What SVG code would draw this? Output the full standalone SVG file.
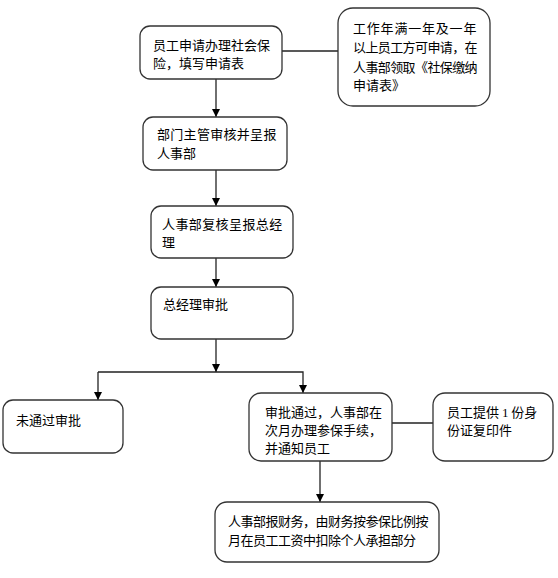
<svg xmlns="http://www.w3.org/2000/svg" width="558" height="578" viewBox="0 0 558 578">
<style>
.box{fill:#fff;stroke:#333;stroke-width:1.3}
.t{font-family:"Noto Sans CJK SC","Liberation Sans",sans-serif;font-size:13px;fill:#000}
.ln{fill:none;stroke:#222;stroke-width:1.3}
</style>
<defs>
<marker id="ah" viewBox="0 0 10 10" refX="10" refY="5" markerWidth="8" markerHeight="8" markerUnits="userSpaceOnUse" orient="auto">
<path d="M0,0 L10,5 L0,10 z" fill="#000"/>
</marker>
</defs>
<rect width="558" height="578" fill="#fff"/>
<g id="connectors">
<line class="ln" x1="282" y1="51" x2="338" y2="51"/>
<line class="ln" x1="216" y1="79" x2="216" y2="117" marker-end="url(#ah)"/>
<line class="ln" x1="216" y1="170" x2="216" y2="206" marker-end="url(#ah)"/>
<line class="ln" x1="216" y1="258" x2="216" y2="287" marker-end="url(#ah)"/>
<line class="ln" x1="216" y1="339" x2="216" y2="372" marker-end="url(#ah)"/>
<polyline class="ln" points="98,372 303,372 303,393" marker-end="url(#ah)"/>
<line class="ln" x1="98" y1="372" x2="98" y2="400" marker-end="url(#ah)"/>
<line class="ln" x1="392" y1="423" x2="433" y2="423"/>
<line class="ln" x1="320" y1="461" x2="320" y2="502" marker-end="url(#ah)"/>
</g>
<g id="n1">
<rect class="box" x="140" y="26" width="142" height="53" rx="10"/>
<text class="t" x="153" y="50">员工申请办理社会保</text>
<text class="t" x="153" y="68">险，填写申请表</text>
</g>
<g id="n2">
<rect class="box" x="338" y="8" width="152" height="98" rx="15"/>
<text class="t" x="353" y="33" letter-spacing="0.8">工作年满一年及一年</text>
<text class="t" x="353" y="52" letter-spacing="-0.6">以上员工方可申请，在</text>
<text class="t" x="353" y="72" letter-spacing="-0.6">人事部领取《社保缴纳</text>
<text class="t" x="353" y="90">申请表》</text>
</g>
<g id="n3">
<rect class="box" x="143" y="117" width="144" height="53" rx="10"/>
<text class="t" x="157" y="139" letter-spacing="0.3">部门主管审核并呈报</text>
<text class="t" x="157" y="158">人事部</text>
</g>
<g id="n4">
<rect class="box" x="151" y="206" width="142" height="52" rx="10"/>
<text class="t" x="162" y="229" letter-spacing="0.4">人事部复核呈报总经</text>
<text class="t" x="162" y="247">理</text>
</g>
<g id="n5">
<rect class="box" x="151" y="287" width="142" height="52" rx="10"/>
<text class="t" x="163" y="309">总经理审批</text>
</g>
<g id="n6">
<rect class="box" x="3" y="400" width="120" height="53" rx="10"/>
<text class="t" x="16" y="425">未通过审批</text>
</g>
<g id="n7">
<rect class="box" x="249" y="393" width="143" height="68" rx="12"/>
<text class="t" x="265" y="417">审批通过，人事部在</text>
<text class="t" x="265" y="435">次月办理参保手续，</text>
<text class="t" x="265" y="453">并通知员工</text>
</g>
<g id="n8">
<rect class="box" x="433" y="393" width="120" height="68" rx="12"/>
<text class="t" x="447" y="417">员工提供 <tspan font-family="Liberation Serif, serif">1</tspan> 份身</text>
<text class="t" x="447" y="435">份证复印件</text>
</g>
<g id="n9">
<rect class="box" x="215" y="502" width="224" height="60" rx="12"/>
<text class="t" x="228" y="526" letter-spacing="-0.5">人事部报财务，由财务按参保比例按</text>
<text class="t" x="228" y="545" letter-spacing="-0.5">月在员工工资中扣除个人承担部分</text>
</g>
</svg>
